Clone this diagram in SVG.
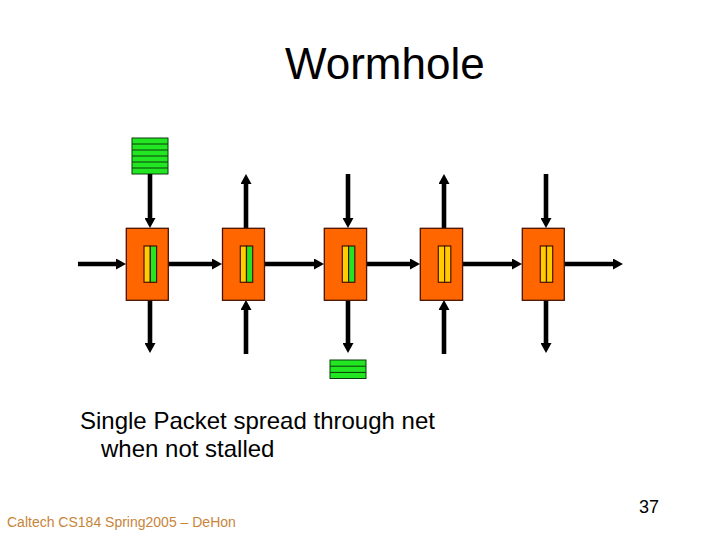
<svg xmlns="http://www.w3.org/2000/svg" width="720" height="540" viewBox="0 0 720 540">
<style>
.router{fill:#FF6600;stroke:#4a1200;stroke-width:1.3}
.y{fill:#FFCC00;stroke:#4a1200;stroke-width:1.2}
.g{fill:#22E622;stroke:#4a1200;stroke-width:1.2}
.q{fill:#22E622;stroke:#0a3a0a;stroke-width:1}
.ql{stroke:#0a3a0a;stroke-width:1}
.c{stroke:#000;stroke-width:4.6;fill:none;marker-end:url(#ah)}
.t{font-family:"Liberation Sans",Arial,sans-serif;fill:#000}
</style>
<defs>
<marker id="ah" markerUnits="userSpaceOnUse" markerWidth="10" markerHeight="11" viewBox="0 0 10 11" refX="1" refY="5.5" orient="auto">
<path d="M0,0 L10,5.5 L0,11 z" fill="#000"/>
</marker>
</defs>
<rect width="720" height="540" fill="#fff"/>
<text class="t" x="285" y="79" font-size="44">Wormhole</text>

<g id="queue-top">
<rect class="q" x="132" y="138" width="36" height="36"/>
<path class="ql" d="M132,144H168M132,150H168M132,156H168M132,162H168M132,168H168"/>
</g>
<g id="queue-bottom">
<rect class="q" x="330" y="360" width="36" height="18.5"/>
<path class="ql" d="M330,366.2H366M330,372.4H366"/>
</g>

<g id="connectors">
<path class="c" d="M150,174V219"/>
<path class="c" d="M150,300V344"/>
<path class="c" d="M246,228V183"/>
<path class="c" d="M246,354V309"/>
<path class="c" d="M348,174V219"/>
<path class="c" d="M348,300V344"/>
<path class="c" d="M444,228V183"/>
<path class="c" d="M444,354V309"/>
<path class="c" d="M546,174V219"/>
<path class="c" d="M546,300V344"/>
<path class="c" d="M78,264H117"/>
<path class="c" d="M168,264H213"/>
<path class="c" d="M264,264H315"/>
<path class="c" d="M366,264H411"/>
<path class="c" d="M462,264H513"/>
<path class="c" d="M564,264H614"/>
</g>

<g id="router1">
<rect class="router" x="126.3" y="228.3" width="42" height="72"/>
<rect class="y" x="144" y="246" width="6.3" height="36.3"/>
<rect class="g" x="150.3" y="246" width="6.3" height="36.3"/>
</g>
<g id="router2">
<rect class="router" x="222.5" y="228.3" width="42" height="72"/>
<rect class="y" x="240.3" y="246" width="6.2" height="36.3"/>
<rect class="g" x="246.5" y="246" width="6.2" height="36.3"/>
</g>
<g id="router3">
<rect class="router" x="324.3" y="228.3" width="42.3" height="72"/>
<rect class="y" x="342.3" y="246" width="6.3" height="36.3"/>
<rect class="g" x="348.6" y="246" width="6.2" height="36.3"/>
</g>
<g id="router4">
<rect class="router" x="420.3" y="228.3" width="42.3" height="72"/>
<rect class="y" x="438.3" y="246" width="6.3" height="36.3"/>
<rect class="y" x="444.6" y="246" width="6.2" height="36.3"/>
</g>
<g id="router5">
<rect class="router" x="522.3" y="228.3" width="42" height="72"/>
<rect class="y" x="540.3" y="246" width="6.2" height="36.3"/>
<rect class="y" x="546.5" y="246" width="6.2" height="36.3"/>
</g>

<text class="t" x="80" y="429" font-size="24">Single Packet spread through net</text>
<text class="t" x="101" y="457" font-size="24">when not stalled</text>
<text x="7" y="527" font-size="14" font-family="Liberation Sans, Arial, sans-serif" fill="#C8843A">Caltech CS184 Spring2005 – DeHon</text>
<text class="t" x="639" y="513" font-size="18">37</text>
</svg>
